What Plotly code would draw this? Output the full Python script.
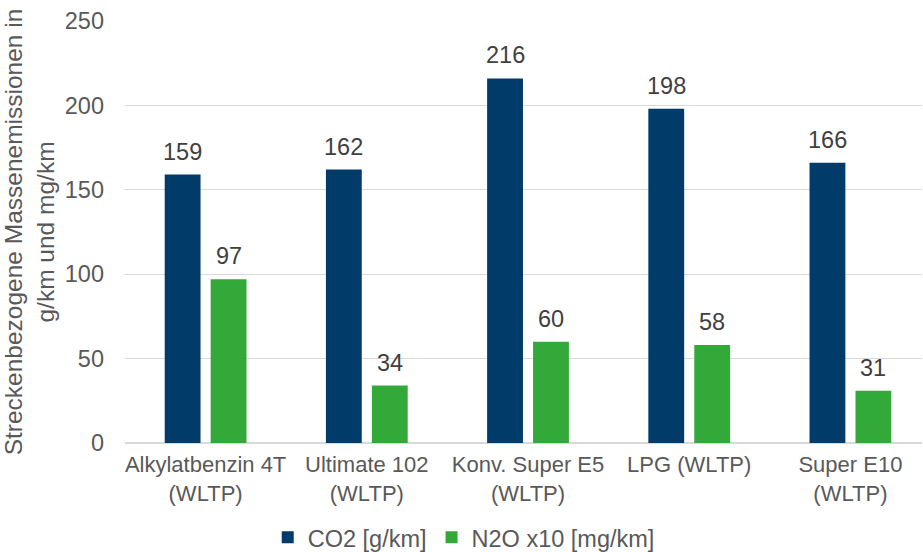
import plotly.graph_objects as go

# Fuel variants (category axis) and measured emissions
categories = [
    "Alkylatbenzin 4T<br>(WLTP)",
    "Ultimate 102<br>(WLTP)",
    "Konv. Super E5<br>(WLTP)",
    "LPG (WLTP)",
    "Super E10<br>(WLTP)",
]
co2_g_km = [159, 162, 216, 198, 166]
n2o_x10_mg_km = [97, 34, 60, 58, 31]
series_names = ["CO2 [g/km]", "N2O x10 [mg/km]"]
y_ticks = [0, 50, 100, 150, 200, 250]

NAVY = "#003B6A"
GREEN = "#33A93A"
TEXT = "#595959"
FONT = "Liberation Sans, Arial, sans-serif"

W, H = 923, 552
margin = dict(l=125, r=1, t=21, b=109, autoexpand=False)
x_range = [-0.5, 4.444]
bargap, bargroupgap = 0.43, 0.22

fig = go.Figure()
fig.add_trace(go.Bar(x=categories, y=co2_g_km, name=series_names[0],
                     marker=dict(color=NAVY, line=dict(width=0))))
fig.add_trace(go.Bar(x=categories, y=n2o_x10_mg_km, name=series_names[1],
                     marker=dict(color=GREEN, line=dict(width=0))))

# value labels above each bar, shifted onto its bar within the group
cat_px = (W - margin["l"] - margin["r"]) / (x_range[1] - x_range[0])
offset = cat_px * (1 - bargap) / 4
for values, shift in ((co2_g_km, -offset), (n2o_x10_mg_km, offset)):
    for c, v in zip(categories, values):
        fig.add_annotation(x=c, y=v, text=str(v), xshift=shift, yshift=8,
                           yanchor="bottom", showarrow=False,
                           font=dict(family=FONT, size=23.5, color="#404040"))

fig.update_layout(
    width=W, height=H, margin=margin,
    paper_bgcolor="white", plot_bgcolor="white",
    barmode="group", bargap=bargap, bargroupgap=bargroupgap,
    font=dict(family=FONT, size=22, color=TEXT),
    legend=dict(orientation="h", x=0.425, xanchor="center", y=-0.172, yanchor="top",
                font=dict(family=FONT, size=23.5, color=TEXT), itemclick=False),
    xaxis=dict(range=x_range, showgrid=False, showline=False, ticks="",
               ticklabelstandoff=6,
               tickfont=dict(family=FONT, size=22, color=TEXT)),
    yaxis=dict(range=[0, 250], tickvals=y_ticks, showgrid=True, gridcolor="#D9D9D9",
               gridwidth=1, zeroline=True, zerolinecolor="#D9D9D9", zerolinewidth=1.5,
               showline=False, ticks="", ticklabelstandoff=20,
               tickfont=dict(family=FONT, size=23.5, color=TEXT),
               title=dict(text="Streckenbezogene Massenemissionen in<br>g/km und mg/km",
                          standoff=10, font=dict(family=FONT, size=24.5, color=TEXT))),
)

fig.write_html("out.html")
